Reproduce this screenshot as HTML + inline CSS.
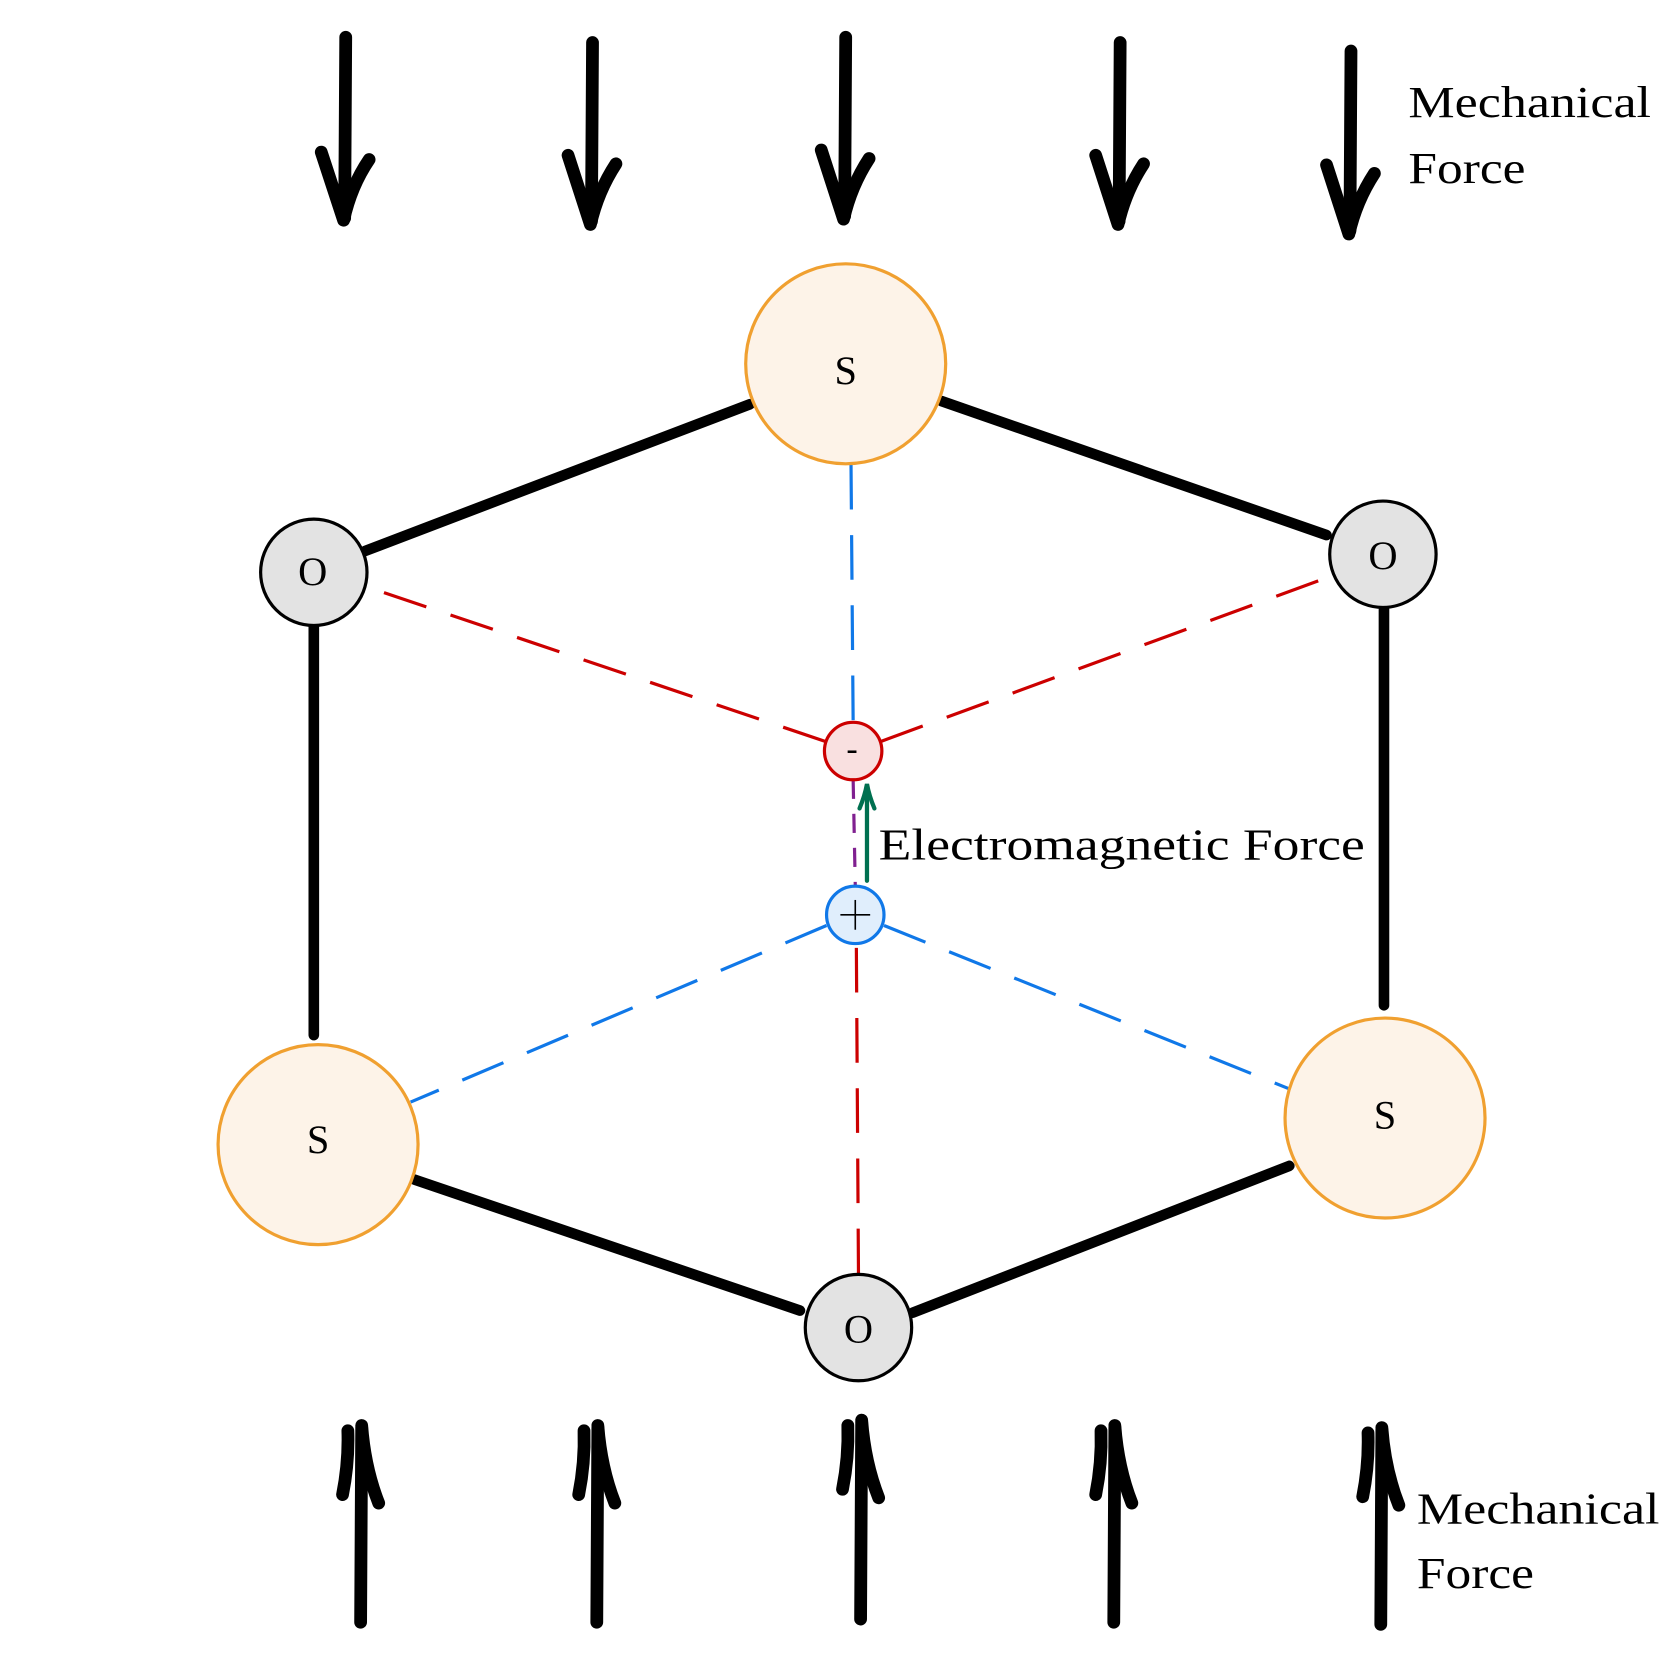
<!DOCTYPE html>
<html><head><meta charset="utf-8"><style>
html,body{margin:0;padding:0;background:#fff;}
svg{display:block;}
text{font-family:"Liberation Serif",serif;fill:#000;}
</style></head><body>
<svg width="1668" height="1668" viewBox="0 0 1568 1568" xmlns="http://www.w3.org/2000/svg">
<g stroke="#000" stroke-width="12" stroke-linecap="round" fill="none">
  <line x1="325" y1="35" x2="324" y2="205"/><path d="M302 143 L323 207 M347 150 Q330 175 323 207"/>
  <line x1="557" y1="40" x2="556" y2="208"/><path d="M534 146 L555 211 M579 154 Q562 180 555 211"/>
  <line x1="795" y1="35" x2="794" y2="203"/><path d="M772 141 L793 206 M817 149 Q800 175 793 206"/>
  <line x1="1053" y1="40" x2="1052" y2="208"/><path d="M1030 146 L1051 211 M1075 154 Q1058 180 1051 211"/>
  <line x1="1270" y1="48" x2="1269" y2="217"/><path d="M1247 155 L1268 220 M1292 163 Q1275 189 1268 220"/>
  <line x1="339" y1="1525" x2="340" y2="1342"/><path d="M356 1413 Q343 1380 340 1340 M322 1405 Q328 1375 327 1345"/>
  <line x1="561" y1="1525" x2="562" y2="1342"/><path d="M578 1413 Q565 1380 562 1340 M544 1405 Q550 1375 549 1345"/>
  <line x1="809" y1="1522" x2="810" y2="1337"/><path d="M826 1408 Q813 1375 810 1335 M792 1400 Q798 1370 797 1340"/>
  <line x1="1047" y1="1525" x2="1048" y2="1342"/><path d="M1064 1413 Q1051 1380 1048 1340 M1030 1405 Q1036 1375 1035 1345"/>
  <line x1="1298" y1="1527" x2="1299" y2="1344"/><path d="M1315 1415 Q1302 1382 1299 1342 M1281 1407 Q1287 1377 1286 1347"/>
</g>
<g stroke-width="3" fill="none" stroke-dasharray="42,24">
  <line x1="800" y1="437" x2="802" y2="679" stroke="#1078e8"/>
  <line x1="777" y1="870" x2="386" y2="1036" stroke="#1078e8"/>
  <line x1="831" y1="870" x2="1213" y2="1024" stroke="#1078e8"/>
  <line x1="776" y1="697" x2="343" y2="551" stroke="#cc0000"/>
  <line x1="828" y1="697" x2="1253" y2="541" stroke="#cc0000"/>
  <line x1="807" y1="1197" x2="805" y2="887" stroke="#cc0000"/>
  <line x1="802" y1="733" x2="804" y2="833" stroke="#802090" stroke-dasharray="18,14"/>
</g>
<g stroke="#000" stroke-width="10" stroke-linecap="round">
  <line x1="343" y1="518" x2="705" y2="380"/>
  <line x1="885" y1="377" x2="1247" y2="503"/>
  <line x1="295" y1="590" x2="295" y2="973"/>
  <line x1="1301" y1="573" x2="1301" y2="945"/>
  <line x1="390" y1="1109" x2="752" y2="1232"/>
  <line x1="858" y1="1234" x2="1212" y2="1096"/>
</g>
<g stroke="#f0a030" stroke-width="3" fill="#fdf3e8">
  <circle cx="795" cy="342" r="94"/><circle cx="299" cy="1076" r="94"/><circle cx="1302" cy="1051" r="94"/>
</g>
<g stroke="#000" stroke-width="3" fill="#e3e3e3">
  <circle cx="295" cy="538" r="50"/><circle cx="1300" cy="521" r="50"/><circle cx="807" cy="1248" r="50"/>
</g>
<circle cx="802" cy="706" r="27" fill="#f9e0e0" stroke="#cc0000" stroke-width="3"/>
<circle cx="804" cy="860" r="27" fill="#e0eefc" stroke="#1078e8" stroke-width="3"/>
<g stroke="#000" stroke-width="1.5"><line x1="790" y1="860" x2="818" y2="860"/><line x1="804" y1="846" x2="804" y2="874"/></g>
<g stroke="#007050" stroke-width="4" fill="none" stroke-linecap="round">
  <line x1="815" y1="828" x2="815" y2="740"/><path d="M808 760 Q813 748 815 737 Q817 748 822 760"/>
</g>
<g font-size="38" text-anchor="middle">
  <text x="795" y="361">S</text><text x="299" y="1084">S</text><text x="1302" y="1061">S</text>
  <text x="294" y="550">O</text><text x="1300" y="535">O</text><text x="807" y="1262">O</text>
  <text x="801" y="714" font-size="32">-</text>
</g>
<g font-size="42">
  <text x="826" y="808" textLength="457" lengthAdjust="spacingAndGlyphs">Electromagnetic Force</text>
  <text x="1324" y="110" textLength="228" lengthAdjust="spacingAndGlyphs">Mechanical</text>
  <text x="1324" y="172" textLength="110" lengthAdjust="spacingAndGlyphs">Force</text>
  <text x="1332" y="1432" textLength="228" lengthAdjust="spacingAndGlyphs">Mechanical</text>
  <text x="1332" y="1493" textLength="110" lengthAdjust="spacingAndGlyphs">Force</text>
</g>
</svg>
</body></html>
